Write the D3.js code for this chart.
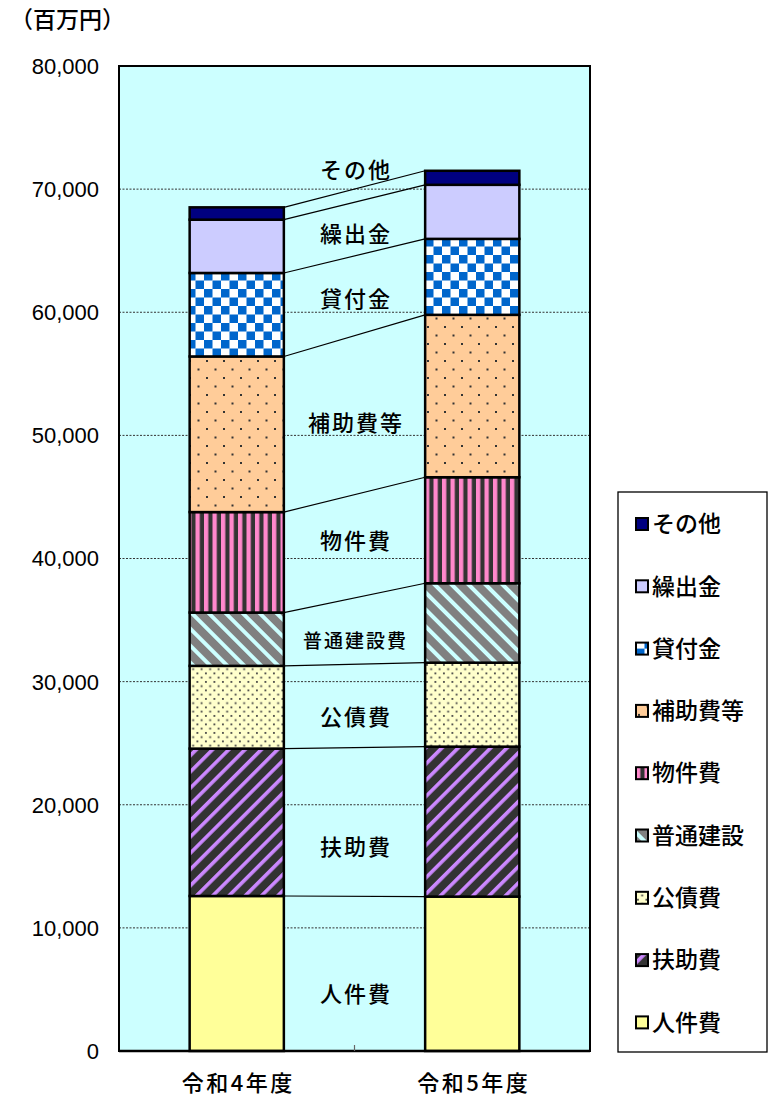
<!DOCTYPE html>
<html><head><meta charset="utf-8">
<script src="https://cdn.jsdelivr.net/npm/d3@7"></script>
<style>
body{margin:0;background:#fff;}
svg{display:block;}
.jp{font-family:"Noto Sans CJK JP","Noto Sans",sans-serif;font-weight:500;}
.num{font-family:"Liberation Sans",Arial,sans-serif;}
</style>
</head><body>
<svg id="chart" width="778" height="1097"></svg>
<script>
// ---- data ----
const categories = ["令和4年度", "令和5年度"];
const seriesNames = ["人件費", "扶助費", "公債費", "普通建設費", "物件費", "補助費等", "貸付金", "繰出金", "その他"];
const legendNames = ["人件費", "扶助費", "公債費", "普通建設", "物件費", "補助費等", "貸付金", "繰出金", "その他"];
const valuesR4 = [12590, 11970, 6720, 4330, 8160, 12640, 6780, 4330, 1000];
const valuesR5 = [12540, 12180, 6820, 6450, 8610, 13190, 6170, 4390, 1140];
const labelValues = [4630, 16570, 27130, 33310, 41430, 51020, 61090, 66370, 71570];
const yTicks = [0, 10000, 20000, 30000, 40000, 50000, 60000, 70000, 80000];
const unitLabel = "（百万円）";

// ---- layout ----
const svg = d3.select("#chart");
const P = {l:119, r:590, t:66, b:1051};
const x = d3.scaleBand().domain(categories).range([P.l, P.r]).paddingInner(0.6).paddingOuter(0.3);
const y = d3.scaleLinear().domain([0, 80000]).range([P.b, P.t]);

// ---- patterns ----
const defs = svg.append("defs");
function pat(id, w, h, transform){
  const p = defs.append("pattern").attr("id", id).attr("patternUnits","userSpaceOnUse")
    .attr("width", w).attr("height", h);
  if (transform) p.attr("patternTransform", transform);
  return p;
}
// 扶助費: dark with purple "/" stripes
{ const p = pat("p1", 11.5, 11.5, "rotate(45)");
  p.append("rect").attr("width",11.5).attr("height",11.5).attr("fill","#333333");
  p.append("rect").attr("width",3.6).attr("height",11.5).attr("fill","#CC88FF"); }
// 公債費: light yellow with dense dots
{ const p = pat("p2", 8.5, 8.5);
  p.append("rect").attr("width",8.5).attr("height",8.5).attr("fill","#FFFFCC");
  p.append("rect").attr("x",1).attr("y",1).attr("width",1.8).attr("height",1.8).attr("fill","#444");
  p.append("rect").attr("x",5.25).attr("y",5.25).attr("width",1.8).attr("height",1.8).attr("fill","#444"); }
// 普通建設費: gray with cyan "\" stripes
{ const p = pat("p3", 12, 12, "rotate(-45)");
  p.append("rect").attr("width",12).attr("height",12).attr("fill","#808080");
  p.append("rect").attr("width",4).attr("height",12).attr("fill","#CCFFFF"); }
// 物件費: vertical pink/dark stripes
{ const p = pat("p4", 8.5, 10);
  p.append("rect").attr("width",8.5).attr("height",10).attr("fill","#333333");
  p.append("rect").attr("width",4.3).attr("height",10).attr("fill","#FF88CC"); }
// 補助費等: peach with sparse dots
{ const p = pat("p5", 17, 17);
  p.append("rect").attr("width",17).attr("height",17).attr("fill","#FFCC99");
  p.append("rect").attr("x",2).attr("y",3).attr("width",2).attr("height",2).attr("fill","#333");
  p.append("rect").attr("x",10.5).attr("y",11.5).attr("width",2).attr("height",2).attr("fill","#333"); }
// 貸付金: blue/white checker
{ const p = pat("p6", 17, 17);
  p.append("rect").attr("width",17).attr("height",17).attr("fill","#FFFFFF");
  p.append("rect").attr("width",8.5).attr("height",8.5).attr("fill","#0066CC");
  p.append("rect").attr("x",8.5).attr("y",8.5).attr("width",8.5).attr("height",8.5).attr("fill","#0066CC"); }

const fills = ["#FFFF99", "url(#p1)", "url(#p2)", "url(#p3)", "url(#p4)", "url(#p5)", "url(#p6)", "#CCCCFF", "#000080"];

// ---- plot background ----
svg.append("rect").attr("x",P.l).attr("y",P.t).attr("width",P.r-P.l).attr("height",P.b-P.t).attr("fill","#CCFFFF");

// gridlines
svg.append("g").selectAll("line").data(yTicks.filter(d => d>0 && d<80000)).join("line")
  .attr("x1",P.l).attr("x2",P.r).attr("y1",d=>y(d)).attr("y2",d=>y(d))
  .attr("stroke","#333").attr("stroke-width",1).attr("stroke-dasharray","2,1.5");

// stacked data
const rows = categories.map((c,i) => {
  const vals = i===0 ? valuesR4 : valuesR5;
  const obj = {cat:c};
  seriesNames.forEach((s,j) => obj[s] = vals[j]);
  return obj;
});
const stack = d3.stack().keys(seriesNames)(rows);

// connector lines
const bw = x.bandwidth();
svg.append("g").selectAll("line").data(stack).join("line")
  .attr("x1", x(categories[0]) + bw).attr("y1", s => y(s[0][1]))
  .attr("x2", x(categories[1])).attr("y2", s => y(s[1][1]))
  .attr("stroke","#000").attr("stroke-width",1.2);

// bars
const gb = svg.append("g");
stack.forEach((s, j) => {
  gb.selectAll(null).data(s).join("rect")
    .attr("x", d => x(d.data.cat)).attr("width", bw)
    .attr("y", d => y(d[1])).attr("height", d => y(d[0]) - y(d[1]))
    .attr("fill", fills[j]).attr("stroke","#000").attr("stroke-width",2.5);
});

// frame
svg.append("rect").attr("x",P.l).attr("y",P.t).attr("width",P.r-P.l).attr("height",P.b-P.t)
  .attr("fill","none").attr("stroke","#000").attr("stroke-width",2);
svg.append("line").attr("x1",P.l).attr("x2",P.r).attr("y1",P.b).attr("y2",P.b).attr("stroke","#000").attr("stroke-width",2.5);
// middle category tick
const midX = (x(categories[0]) + bw + x(categories[1])) / 2;
svg.append("line").attr("x1",midX).attr("x2",midX).attr("y1",P.b).attr("y2",P.b-6).attr("stroke","#666").attr("stroke-width",1.2);

// y tick labels
svg.append("g").selectAll("text").data(yTicks).join("text")
  .attr("class","num").attr("x",99).attr("y",d=>y(d)).attr("dy","0.36em")
  .attr("text-anchor","end").attr("font-size",22).attr("fill","#000")
  .text(d => d3.format(",")(d));

// category labels
svg.append("g").selectAll("text").data(categories).join("text")
  .attr("class","jp").attr("x", d => x(d) + bw/2 + 1.5).attr("y",1091)
  .attr("text-anchor","middle").attr("font-size",22).attr("letter-spacing",2.5)
  .attr("fill","#000").text(d => d);

// unit label
svg.append("text").attr("class","jp").attr("x",10).attr("y",28).attr("font-size",23).attr("fill","#000").text(unitLabel);

// series labels between bars
svg.append("g").selectAll("text").data(seriesNames).join("text")
  .attr("class","jp").attr("x", d => midX + (d.length > 4 ? 1 : 1.5)).attr("y", (d,i) => y(labelValues[i]))
  .attr("dy","0.36em").attr("text-anchor","middle")
  .attr("font-size", d => d.length > 4 ? 19 : 22)
  .attr("letter-spacing", 2)
  .attr("fill","#000").text(d => d);

// legend
svg.append("rect").attr("x",618).attr("y",492).attr("width",149).attr("height",560)
  .attr("fill","#fff").attr("stroke","#000").attr("stroke-width",1.3);
const legOrder = d3.range(seriesNames.length).reverse();
const lg = svg.append("g").selectAll("g").data(legOrder).join("g")
  .attr("transform", (d,i) => `translate(636,${524 + i*62.3})`);
lg.append("rect").attr("x",0).attr("y",-6).attr("width",12).attr("height",12)
  .attr("fill", d => fills[d]).attr("stroke","#000").attr("stroke-width",2);
lg.append("text").attr("class","jp").attr("x",16).attr("y",0).attr("dy","0.36em")
  .attr("font-size",23).attr("fill","#000").text(d => legendNames[d]);
</script>
</body></html>
